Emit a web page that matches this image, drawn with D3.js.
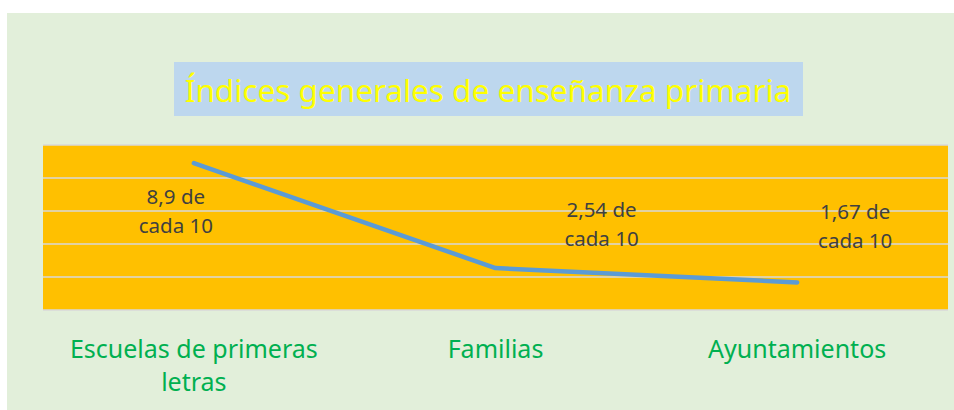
<!DOCTYPE html>
<html>
<head>
<meta charset="utf-8">
<script src="https://cdn.jsdelivr.net/npm/d3@7"></script>
<style>
  body { margin: 0; background: #fff; }
  svg { display: block; font-family: "Noto Sans", sans-serif; }
</style>
</head>
<body>
<div id="chart"></div>
<script>
// chart data
const categories = ["Escuelas de primeras letras", "Familias", "Ayuntamientos"];
const values = [8.9, 2.54, 1.67];
const valueLabels = ["8,9 de|cada 10", "2,54 de|cada 10", "1,67 de|cada 10"];
const yTicks = [0, 2, 4, 6, 8, 10];
const title = "Índices generales de enseñanza primaria";

const width = 954, height = 410;
const plot = { left: 43, right: 948, top: 145, bottom: 310 };

const svg = d3.select("#chart").append("svg")
    .attr("width", width)
    .attr("height", height);

// chart area background
svg.append("rect")
    .attr("x", 7).attr("y", 13)
    .attr("width", width - 7).attr("height", height - 13)
    .attr("fill", "#E2EFDA");

// title box
svg.append("rect")
    .attr("x", 174).attr("y", 62)
    .attr("width", 629).attr("height", 54)
    .attr("fill", "#BDD7EE");

svg.append("text")
    .attr("x", 488).attr("y", 102)
    .attr("text-anchor", "middle")
    .attr("fill", "#FFFF00")
    .style("font-size", "31.5px")
    .text(title);

const x = d3.scaleBand()
    .domain(categories)
    .range([plot.left, plot.right])
    .padding(0);

const y = d3.scaleLinear()
    .domain([0, 10])
    .range([plot.bottom, plot.top]);

// plot area
svg.append("rect")
    .attr("x", plot.left).attr("y", plot.top)
    .attr("width", plot.right - plot.left)
    .attr("height", plot.bottom - plot.top)
    .attr("fill", "#FFC000");

// gridlines
svg.append("g")
    .selectAll("line")
    .data(yTicks)
    .join("line")
    .attr("x1", plot.left).attr("x2", plot.right)
    .attr("y1", d => y(d)).attr("y2", d => y(d))
    .attr("stroke", "#D9D9D9")
    .attr("stroke-width", 1.5);

// the series line
const line = d3.line()
    .x((d, i) => x(categories[i]) + x.bandwidth() / 2)
    .y(d => y(d));

svg.append("path")
    .datum(values)
    .attr("d", line)
    .attr("fill", "none")
    .attr("stroke", "#5B9BD5")
    .attr("stroke-width", 4.5)
    .attr("stroke-linecap", "round")
    .attr("stroke-linejoin", "round");

// data labels were moved by hand in the original, so nudge them from their points
const nudge = [[-18, 41], [106, -51], [58, -63]];

const lbl = svg.append("g")
    .selectAll("text")
    .data(values)
    .join("text")
    .attr("text-anchor", "middle")
    .attr("fill", "#404040")
    .style("font-size", "20.5px")
    .attr("transform", (d, i) =>
        `translate(${x(categories[i]) + x.bandwidth() / 2 + nudge[i][0]}, ${y(d) + nudge[i][1]})`);

lbl.selectAll("tspan")
    .data((d, i) => valueLabels[i].split("|"))
    .join("tspan")
    .attr("x", 0)
    .attr("dy", (d, i) => i === 0 ? 0 : 29)
    .text(d => d);

// category axis labels, wrapped like the original
const catLines = [["Escuelas de primeras", "letras"], ["Familias"], ["Ayuntamientos"]];

const cat = svg.append("g")
    .selectAll("text")
    .data(categories)
    .join("text")
    .attr("text-anchor", "middle")
    .attr("fill", "#00B050")
    .style("font-size", "25px")
    .attr("transform", d => `translate(${x(d) + x.bandwidth() / 2}, 358)`);

cat.selectAll("tspan")
    .data((d, i) => catLines[i])
    .join("tspan")
    .attr("x", 0)
    .attr("dy", (d, i) => i === 0 ? 0 : 33)
    .text(d => d);
</script>
</body>
</html>
